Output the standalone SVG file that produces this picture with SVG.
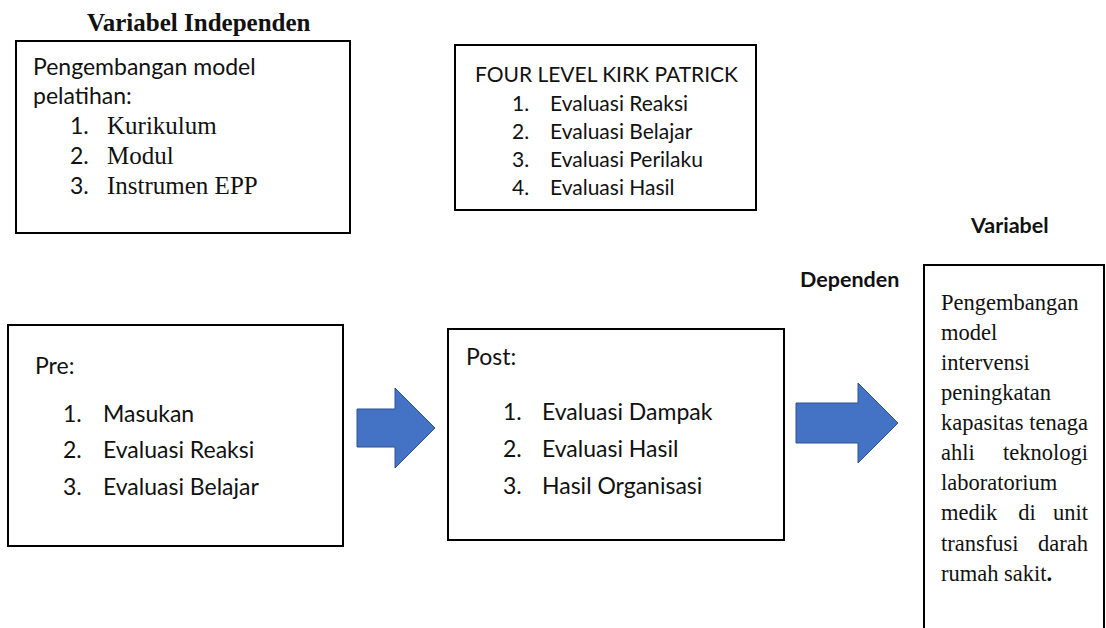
<svg xmlns="http://www.w3.org/2000/svg" width="1106" height="628" viewBox="0 0 1106 628">
<style>
.box{fill:#fff;stroke:#000;stroke-width:2}
.sans{font-family:Lato,"Liberation Sans",sans-serif;fill:#111}
.serif{font-family:"Liberation Serif","Times New Roman",serif;fill:#111}
.s23{font-size:23px}
.s21{font-size:21px}
.ser25{font-size:25px}
.ser22{font-size:22.5px}
.bold{font-weight:bold}
.arrow{fill:#4472C4;stroke:#2F528F;stroke-width:1}
</style>
<rect width="1106" height="628" fill="#fff"/>
<text class="serif bold" x="87" y="31" font-size="25">Variabel Independen</text>
<text class="sans bold" x="971" y="233" font-size="21.5">Variabel</text>
<text class="sans bold" x="800" y="287" font-size="21.5">Dependen</text>

<g id="node-independen">
<rect class="box" x="16" y="41" width="334" height="192"/>
<text class="sans s23" x="33" y="75">Pengembangan model</text>
<text class="sans s23" x="33" y="104">pelatihan:</text>
<text class="sans s23" x="70" y="134">1.</text><text class="serif ser25" x="107" y="134">Kurikulum</text>
<text class="sans s23" x="70" y="164">2.</text><text class="serif ser25" x="107" y="164">Modul</text>
<text class="sans s23" x="70" y="194">3.</text><text class="serif ser25" x="107" y="194">Instrumen EPP</text>
</g>

<g id="node-kirkpatrick">
<rect class="box" x="455" y="45" width="301" height="165"/>
<text class="sans s21" x="475" y="82" textLength="263">FOUR LEVEL KIRK PATRICK</text>
<text class="sans s21" x="512" y="111">1.</text><text class="sans s21" x="550" y="111">Evaluasi Reaksi</text>
<text class="sans s21" x="512" y="139">2.</text><text class="sans s21" x="550" y="139">Evaluasi Belajar</text>
<text class="sans s21" x="512" y="167">3.</text><text class="sans s21" x="550" y="167">Evaluasi Perilaku</text>
<text class="sans s21" x="512" y="195">4.</text><text class="sans s21" x="550" y="195">Evaluasi Hasil</text>
</g>

<g id="node-pre">
<rect class="box" x="8" y="325" width="335" height="221"/>
<text class="sans s23" x="35" y="374">Pre:</text>
<text class="sans s23" x="63" y="422">1.</text><text class="sans s23" x="103" y="422">Masukan</text>
<text class="sans s23" x="63" y="458">2.</text><text class="sans s23" x="103" y="458">Evaluasi Reaksi</text>
<text class="sans s23" x="63" y="495">3.</text><text class="sans s23" x="103" y="495">Evaluasi Belajar</text>
</g>

<g id="node-post">
<rect class="box" x="448" y="329" width="336" height="211"/>
<text class="sans s23" x="466" y="365">Post:</text>
<text class="sans s23" x="503" y="420">1.</text><text class="sans s23" x="542" y="420">Evaluasi Dampak</text>
<text class="sans s23" x="503" y="457">2.</text><text class="sans s23" x="542" y="457">Evaluasi Hasil</text>
<text class="sans s23" x="503" y="494">3.</text><text class="sans s23" x="542" y="494">Hasil Organisasi</text>
</g>

<g id="node-dependen">
<path d="M924,630 V265 H1104 V630" fill="#fff" stroke="#000" stroke-width="2"/>
<text class="serif ser22" x="941" y="310">Pengembangan</text>
<text class="serif ser22" x="941" y="340">model</text>
<text class="serif ser22" x="941" y="370">intervensi</text>
<text class="serif ser22" x="941" y="400">peningkatan</text>
<text class="serif ser22" x="941" y="430">kapasitas</text><text class="serif ser22" x="1088" y="430" text-anchor="end">tenaga</text>
<text class="serif ser22" x="941" y="460">ahli</text><text class="serif ser22" x="1088" y="460" text-anchor="end">teknologi</text>
<text class="serif ser22" x="941" y="490">laboratorium</text>
<text class="serif ser22" x="941" y="520">medik</text><text class="serif ser22" x="1027" y="520" text-anchor="middle">di</text><text class="serif ser22" x="1088" y="520" text-anchor="end">unit</text>
<text class="serif ser22" x="941" y="551">transfusi</text><text class="serif ser22" x="1088" y="551" text-anchor="end">darah</text>
<text class="serif ser22" x="941" y="581">rumah sakit<tspan font-weight="bold">.</tspan></text>
</g>

<g id="connectors">
<polygon class="arrow" points="357,409 395,409 395,388 435,428 395,468 395,447 357,447"/>
<polygon class="arrow" points="796,403 858,403 858,383 898,423 858,463 858,443 796,443"/>
</g>
</svg>
